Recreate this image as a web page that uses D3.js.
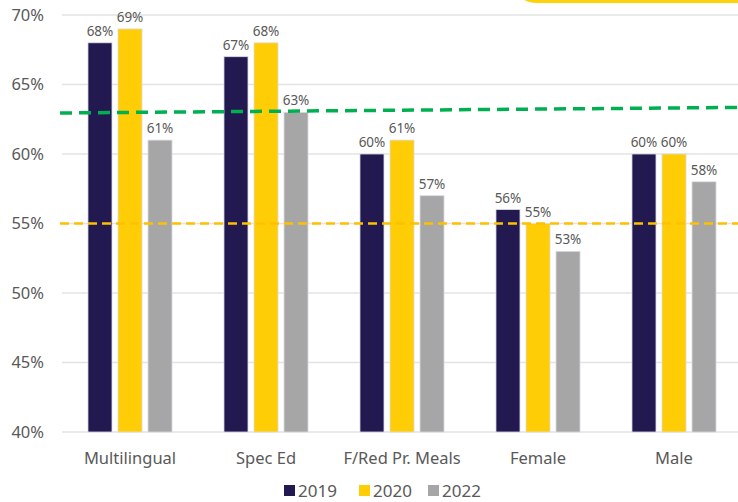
<!DOCTYPE html>
<html>
<head>
<meta charset="utf-8">
<script src="https://cdn.jsdelivr.net/npm/d3@7"></script>
<style>
  body { margin: 0; background: #fff; }
  svg { display: block; font-family: 'Noto Sans', sans-serif; }
</style>
</head>
<body>
<div id="chart"></div>
<script>
// Data
var categories = ['Multilingual', 'Spec Ed', 'F/Red Pr. Meals', 'Female', 'Male']
var years = ['2019', '2020', '2022']
var values2019 = [68, 67, 60, 56, 60]
var values2020 = [69, 68, 61, 55, 60]
var values2022 = [61, 63, 57, 53, 58]
var yTicks = [40, 45, 50, 55, 60, 65, 70]
// dashed reference lines, value at left and right end
var greenLine = [62.95, 63.35]
var yellowLine = [55, 55]

var colors = { '2019': '#211950', '2020': '#ffcd05', '2022': '#a6a6a6' }

var width = 738
var height = 502

var svg = d3.select('#chart')
  .append('svg')
  .attr('width', width)
  .attr('height', height)

// yellow shape peeking in at top right
svg.append('rect')
  .attr('x', 515)
  .attr('y', -30)
  .attr('width', 300)
  .attr('height', 33)
  .attr('rx', 22)
  .attr('fill', '#fdd20a')

var xPositionScale = d3.scaleBand()
  .domain(categories)
  .range([62, 742])
  .paddingInner(0.382)
  .paddingOuter(0.191)

var xYearScale = d3.scaleBand()
  .domain(years)
  .range([0, xPositionScale.bandwidth()])
  .paddingInner(0.2)

var yPositionScale = d3.scaleLinear()
  .domain([40, 70])
  .range([432, 15])

// gridlines
svg.append('g')
  .selectAll('line')
  .data(yTicks)
  .enter()
  .append('line')
  .attr('x1', 62)
  .attr('x2', 738)
  .attr('y1', d => yPositionScale(d))
  .attr('y2', d => yPositionScale(d))
  .attr('stroke', '#e3e3e3')
  .attr('stroke-width', 1.3)

// y axis labels
var yAxis = d3.axisLeft(yPositionScale)
  .tickValues(yTicks)
  .tickFormat(d => d + '%')
  .tickSize(0)
  .tickPadding(0)

svg.append('g')
  .attr('class', 'axis y-axis')
  .attr('transform', 'translate(44,0)')
  .call(yAxis)
  .call(g => g.select('.domain').remove())
  .selectAll('text')
  .attr('font-size', '16.5px')
  .attr('font-family', 'Noto Sans, sans-serif')
  .attr('fill', '#595959')

var rows = categories.map(function (c, i) {
  return {
    category: c,
    bars: [
      { year: '2019', value: values2019[i] },
      { year: '2020', value: values2020[i] },
      { year: '2022', value: values2022[i] }
    ]
  }
})

var groups = svg.append('g')
  .selectAll('.group')
  .data(rows)
  .enter()
  .append('g')
  .attr('class', 'group')
  .attr('transform', d => 'translate(' + xPositionScale(d.category) + ',0)')

groups.selectAll('rect')
  .data(d => d.bars)
  .enter()
  .append('rect')
  .attr('x', d => xYearScale(d.year))
  .attr('y', d => yPositionScale(d.value))
  .attr('width', xYearScale.bandwidth())
  .attr('height', d => yPositionScale(40) - yPositionScale(d.value))
  .attr('fill', d => colors[d.year])
  .attr('stroke', '#dcdce4')
  .attr('stroke-width', 0.8)

groups.selectAll('.label')
  .data(d => d.bars)
  .enter()
  .append('text')
  .attr('class', 'label')
  .text(d => d.value + '%')
  .attr('x', d => xYearScale(d.year) + xYearScale.bandwidth() / 2)
  .attr('y', d => yPositionScale(d.value) - 7)
  .attr('text-anchor', 'middle')
  .attr('font-size', '13.5px')
  .attr('fill', '#595959')

// category labels
var xAxis = d3.axisBottom(xPositionScale).tickSize(0).tickPadding(0)
svg.append('g')
  .attr('class', 'axis x-axis')
  .attr('transform', 'translate(0,452)')
  .call(xAxis)
  .call(g => g.select('.domain').remove())
  .selectAll('text')
  .attr('font-size', '16.5px')
  .attr('font-family', 'Noto Sans, sans-serif')
  .attr('fill', '#595959')

// dashed reference lines
svg.append('line')
  .attr('x1', 60)
  .attr('x2', 738)
  .attr('y1', yPositionScale(greenLine[0]))
  .attr('y2', yPositionScale(greenLine[1]))
  .attr('stroke', '#00b050')
  .attr('stroke-width', 3.5)
  .attr('stroke-dasharray', '12,7')

svg.append('line')
  .attr('x1', 60)
  .attr('x2', 738)
  .attr('y1', yPositionScale(yellowLine[0]))
  .attr('y2', yPositionScale(yellowLine[1]))
  .attr('stroke', '#ffc000')
  .attr('stroke-width', 2.5)
  .attr('stroke-dasharray', '9,5')

// legend
var legendX = [284, 359, 428]
var legend = svg.append('g')
  .selectAll('.legend')
  .data(years)
  .enter()
  .append('g')
  .attr('class', 'legend')
  .attr('transform', (d, i) => 'translate(' + legendX[i] + ',485)')

legend.append('rect')
  .attr('width', 11)
  .attr('height', 11)
  .attr('fill', d => colors[d])

legend.append('text')
  .text(d => d)
  .attr('x', 14)
  .attr('y', 11.5)
  .attr('font-size', '17px')
  .attr('fill', '#595959')
</script>
</body>
</html>
